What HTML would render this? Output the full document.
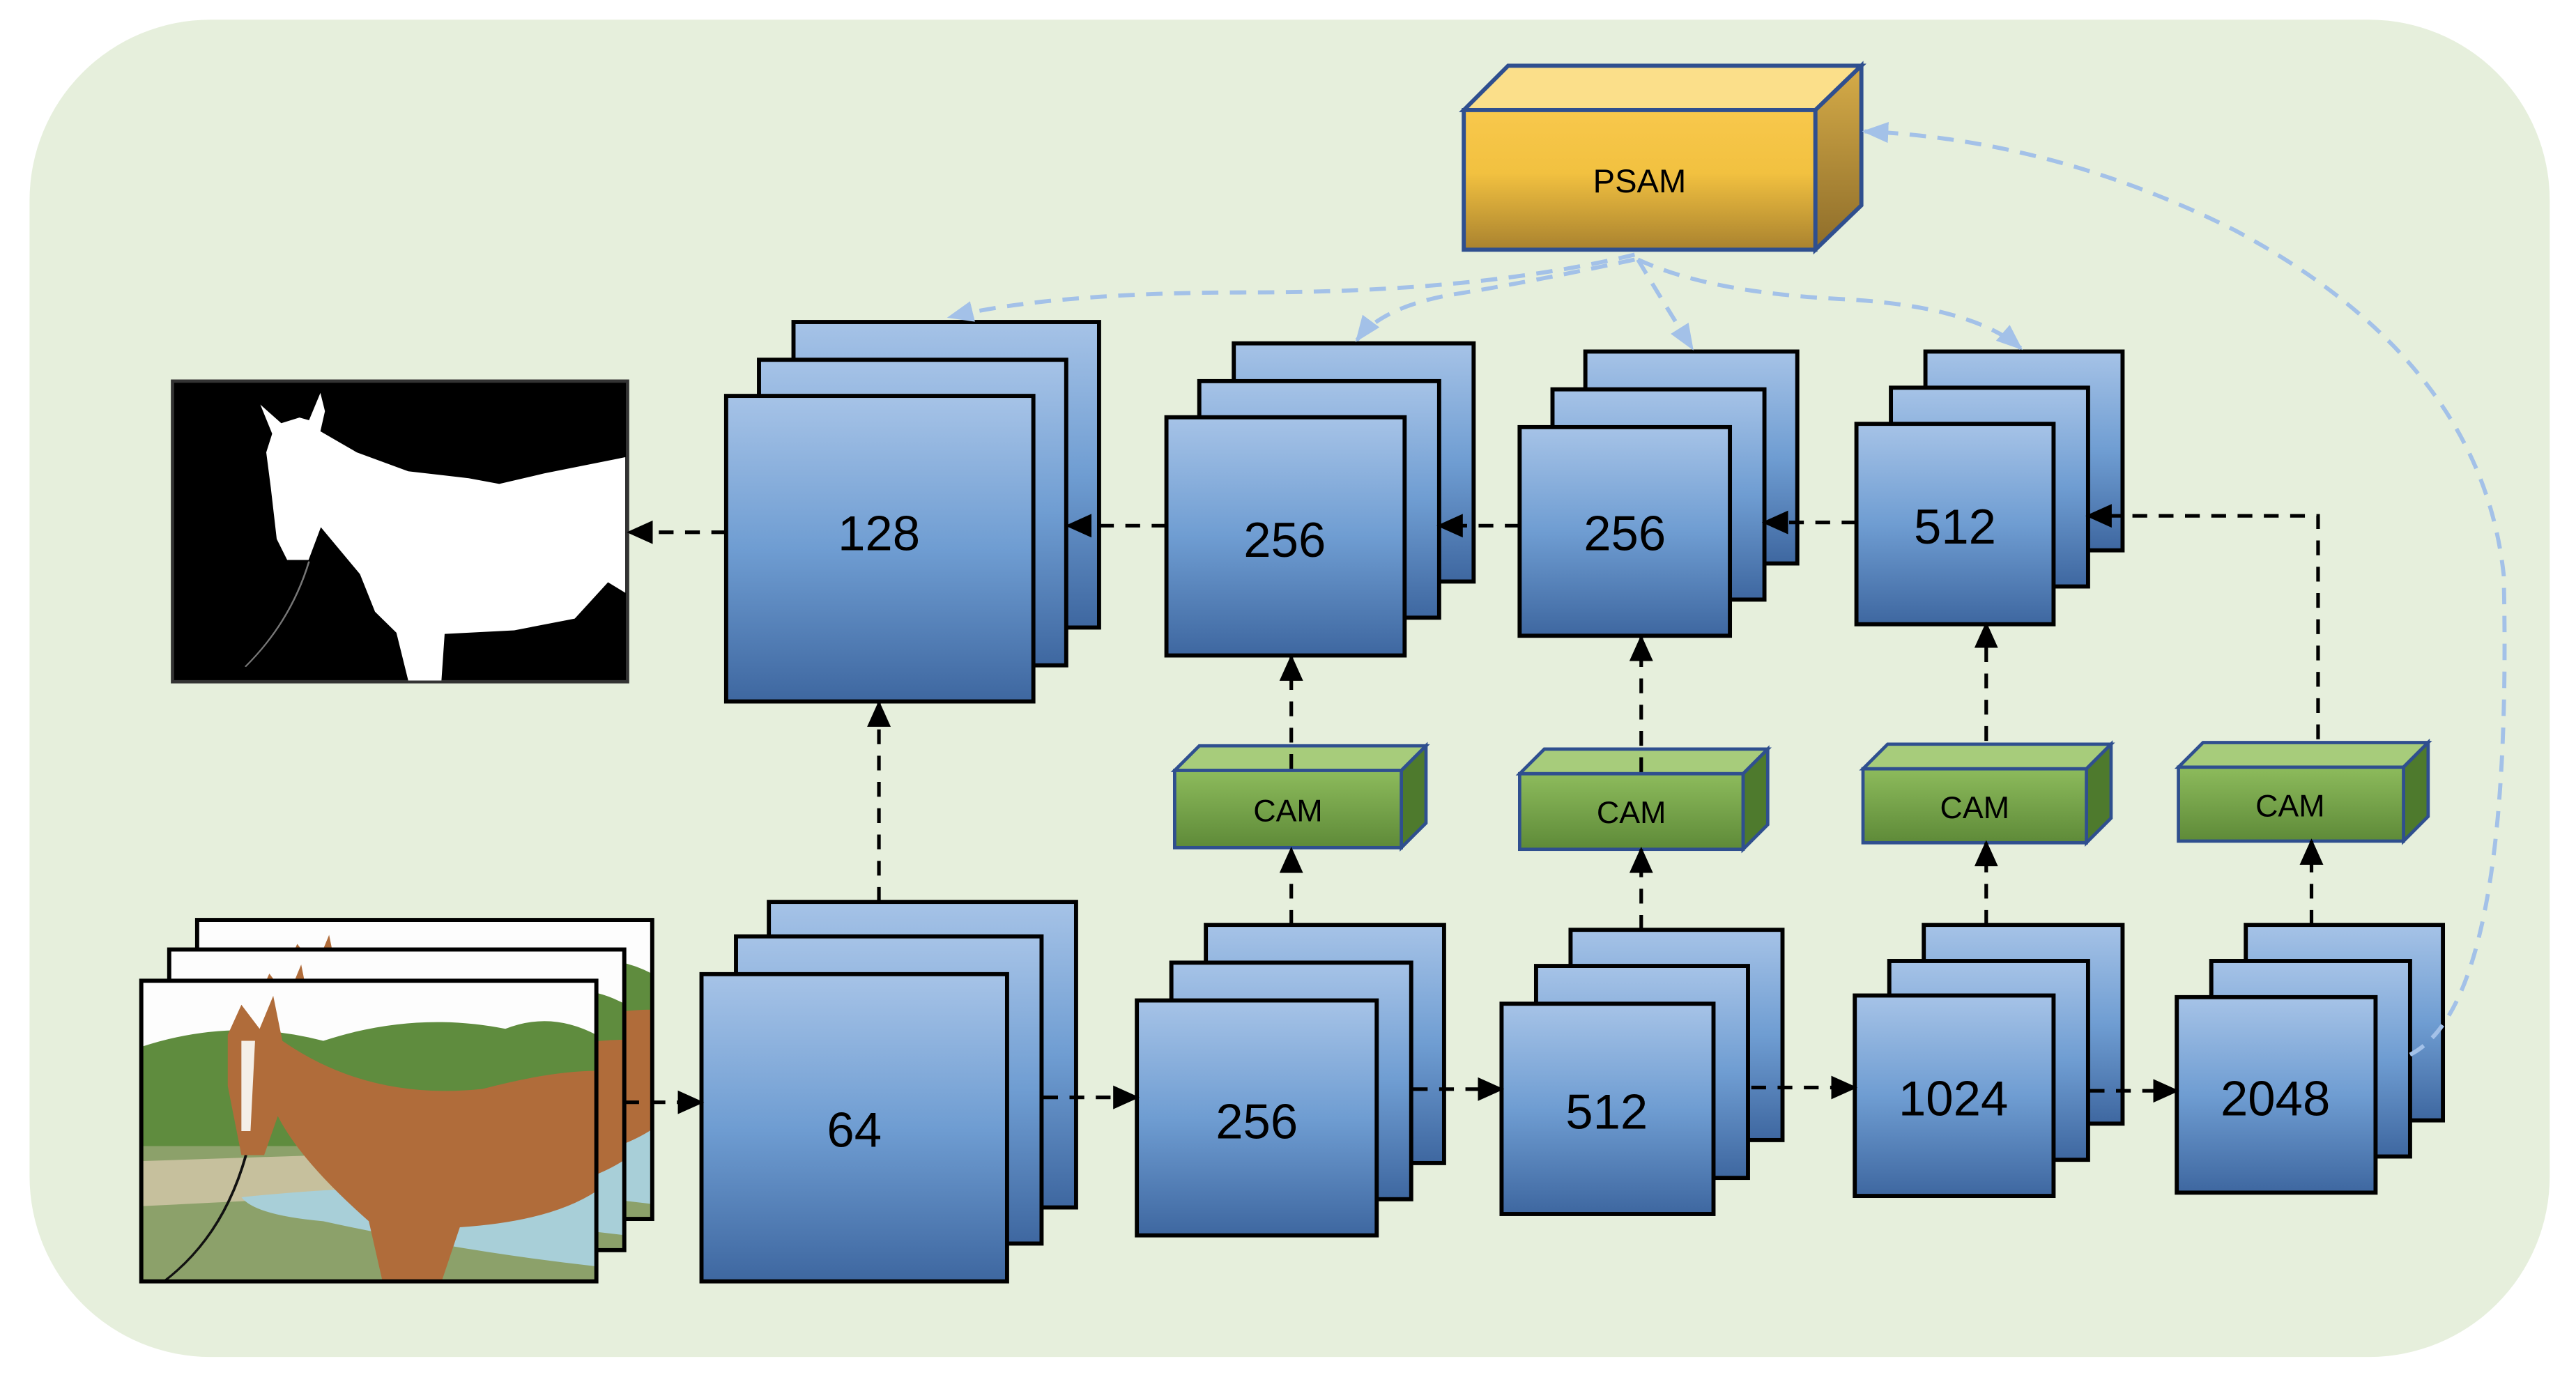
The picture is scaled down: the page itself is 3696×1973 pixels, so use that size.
<!DOCTYPE html>
<html><head><meta charset="utf-8"><style>html,body{margin:0;padding:0;background:#fff}svg{display:block}</style></head><body>
<svg width="3696" height="1973" viewBox="0 0 1568 837" preserveAspectRatio="none" xmlns="http://www.w3.org/2000/svg">
<defs>
<linearGradient id="bl" x1="0" y1="0" x2="0" y2="1"><stop offset="0" stop-color="#a6c3e7"/><stop offset="0.5" stop-color="#6f9dd2"/><stop offset="1" stop-color="#3e67a0"/></linearGradient>
<linearGradient id="gf" x1="0" y1="0" x2="0" y2="1"><stop offset="0" stop-color="#8dbb5c"/><stop offset="1" stop-color="#5e8a38"/></linearGradient>
<linearGradient id="yf" x1="0" y1="0" x2="0" y2="1"><stop offset="0" stop-color="#f8c84c"/><stop offset="0.45" stop-color="#f2c140"/><stop offset="1" stop-color="#a9822f"/></linearGradient>
<linearGradient id="ys" x1="0" y1="0" x2="0" y2="1"><stop offset="0" stop-color="#d6ac48"/><stop offset="1" stop-color="#8e6d2a"/></linearGradient>
<marker id="ab" viewBox="0 0 10 10" refX="9" refY="5" markerWidth="16" markerHeight="16" orient="auto" markerUnits="userSpaceOnUse"><path d="M0,1 L10,5 L0,9 z" fill="#a3c1e8"/></marker>
<marker id="bk" viewBox="0 0 10 10" refX="9" refY="5" markerWidth="16" markerHeight="16" orient="auto" markerUnits="userSpaceOnUse"><path d="M0,0.5 L10,5 L0,9.5 z" fill="#000"/></marker>
<g id="horse" stroke="none">
<rect x="0" y="0" width="1" height="1" fill="#fdfdfd"/>
<path d="M0,0.22 Q0.2,0.12 0.4,0.2 Q0.6,0.1 0.8,0.16 Q0.9,0.1 1,0.18 L1,0.55 L0,0.6 z" fill="#5f8c3e"/>
<rect x="0" y="0.55" width="1" height="0.45" fill="#8ca16a"/>
<path d="M0,0.6 L1,0.55 L1,0.7 L0.4,0.72 L0,0.75 z" fill="#c6c09d"/>
<path d="M0.22,0.72 Q0.6,0.66 1,0.7 L1,0.95 Q0.7,0.9 0.4,0.8 Q0.25,0.78 0.22,0.72 z" fill="#a8cfd8"/>
<path d="M0.19,0.18 L0.22,0.08 L0.26,0.16 L0.29,0.05 L0.31,0.2 Q0.5,0.4 0.75,0.36 Q0.9,0.3 1,0.3 L1,0.7 Q0.9,0.8 0.7,0.82 L0.66,1 L0.53,1 L0.5,0.8 Q0.35,0.6 0.3,0.45 L0.27,0.58 L0.22,0.58 L0.19,0.35 z" fill="#b06c3a"/>
<path d="M0.22,0.2 L0.25,0.2 L0.24,0.5 L0.22,0.5 z" fill="#f4efe8"/>
<path d="M0.23,0.58 Q0.18,0.85 0.05,1" fill="none" stroke="#111" stroke-width="0.006"/>
</g>
</defs>
<rect x="0" y="0" width="1568" height="837" fill="#ffffff"/>
<rect x="18" y="12" width="1534" height="814" rx="110" ry="110" fill="#e6efdc"/>

<!-- input images -->
<g transform="translate(120,560) scale(277,182)"><use href="#horse"/></g>
<rect x="120" y="560" width="277" height="182" fill="none" stroke="#000" stroke-width="2.5"/>
<g transform="translate(103,578) scale(277,183)"><use href="#horse"/></g>
<rect x="103" y="578" width="277" height="183" fill="none" stroke="#000" stroke-width="2.5"/>
<g transform="translate(86,597) scale(277,183)"><use href="#horse"/></g>
<rect x="86" y="597" width="277" height="183" fill="none" stroke="#000" stroke-width="2.5"/>

<!-- mask -->
<rect x="105" y="232" width="277" height="183" fill="#000" stroke="#333" stroke-width="2"/>
<g transform="translate(105,232) scale(277,183)">
<path d="M.193,.078 L.239,.140 L.279,.121 L.30,.13 L.325,.039 L.335,.10 L.325,.167 L.405,.237 L.518,.300 L.651,.323 L.718,.342 L.817,.307 L.995,.253 L.995,.704 L.957,.669 L.884,.790 L.751,.829 L.598,.841 L.591,.996 L.518,.996 L.492,.837 L.445,.767 L.412,.642 L.326,.486 L.299,.595 L.252,.595 L.229,.525 L.216,.354 L.206,.237 L.219,.175 z" fill="#fff"/>
<path d="M.30,.60 Q.26,.8 .16,.95" fill="none" stroke="#777" stroke-width="0.004"/>
</g>

<!-- stacks -->
<g fill="url(#bl)" stroke="#000" stroke-width="2.5">
<rect x="483" y="196" width="186" height="186"/><rect x="462" y="219" width="187" height="186"/><rect x="442" y="241" width="187" height="186"/>
<rect x="751" y="209" width="146" height="145"/><rect x="730" y="232" width="146" height="144"/><rect x="710" y="254" width="145" height="145"/>
<rect x="965" y="214" width="129" height="129"/><rect x="945" y="237" width="129" height="128"/><rect x="925" y="260" width="128" height="127"/>
<rect x="1172" y="214" width="120" height="121"/><rect x="1151" y="236" width="120" height="121"/><rect x="1130" y="258" width="120" height="122"/>
<rect x="468" y="549" width="187" height="186"/><rect x="448" y="570" width="186" height="187"/><rect x="427" y="593" width="186" height="187"/>
<rect x="734" y="563" width="145" height="145"/><rect x="713" y="586" width="146" height="144"/><rect x="692" y="609" width="146" height="143"/>
<rect x="956" y="566" width="129" height="128"/><rect x="935" y="588" width="129" height="129"/><rect x="914" y="611" width="129" height="128"/>
<rect x="1171" y="563" width="121" height="121"/><rect x="1150" y="585" width="121" height="121"/><rect x="1129" y="606" width="121" height="122"/>
<rect x="1367" y="563" width="120" height="119"/><rect x="1346" y="585" width="121" height="119"/><rect x="1325" y="607" width="121" height="119"/>
</g>
<g font-family="Liberation Sans, sans-serif" font-size="30" text-anchor="middle" fill="#000">
<text x="535" y="335">128</text><text x="782" y="339">256</text><text x="989" y="335">256</text><text x="1190" y="331">512</text>
<text x="520" y="698">64</text><text x="765" y="693">256</text><text x="978" y="687">512</text><text x="1189" y="679">1024</text><text x="1385" y="679">2048</text>
</g>

<!-- CAM boxes -->
<g stroke="#2f4f8f" stroke-width="2" font-family="Liberation Sans, sans-serif" font-size="19">
<g transform="translate(715,469)"><path d="M0,0 L15,-15 L153,-15 L138,0 z" fill="#a7cc7b"/><path d="M138,0 L153,-15 L153,32 L138,47 z" fill="#4e7a2d"/><rect x="0" y="0" width="138" height="47" fill="url(#gf)"/><text x="69" y="31" text-anchor="middle" stroke="none" fill="#000">CAM</text></g>
<g transform="translate(925,471)"><path d="M0,0 L15,-15 L151,-15 L136,0 z" fill="#a7cc7b"/><path d="M136,0 L151,-15 L151,31 L136,46 z" fill="#4e7a2d"/><rect x="0" y="0" width="136" height="46" fill="url(#gf)"/><text x="68" y="30" text-anchor="middle" stroke="none" fill="#000">CAM</text></g>
<g transform="translate(1134,468)"><path d="M0,0 L15,-15 L151,-15 L136,0 z" fill="#a7cc7b"/><path d="M136,0 L151,-15 L151,30 L136,45 z" fill="#4e7a2d"/><rect x="0" y="0" width="136" height="45" fill="url(#gf)"/><text x="68" y="30" text-anchor="middle" stroke="none" fill="#000">CAM</text></g>
<g transform="translate(1326,467)"><path d="M0,0 L15,-15 L152,-15 L137,0 z" fill="#a7cc7b"/><path d="M137,0 L152,-15 L152,30 L137,45 z" fill="#4e7a2d"/><rect x="0" y="0" width="137" height="45" fill="url(#gf)"/><text x="68" y="30" text-anchor="middle" stroke="none" fill="#000">CAM</text></g>
</g>

<!-- PSAM -->
<g stroke="#2f4f8f" stroke-width="2.5">
<path d="M891,67 L918,40 L1133,40 L1105,67 z" fill="#fbdf8a"/>
<path d="M1105,67 L1133,40 L1133,125 L1105,152 z" fill="url(#ys)"/>
<rect x="891" y="67" width="214" height="85" fill="url(#yf)"/>
<text x="998" y="117" text-anchor="middle" stroke="none" fill="#000" font-family="Liberation Sans, sans-serif" font-size="20">PSAM</text>
</g>

<!-- black dashed arrows -->
<g stroke="#000" stroke-width="2.2" stroke-dasharray="9 7" fill="none" marker-end="url(#bk)">
<path d="M380,671 L427,671"/><path d="M635,668 L692,668"/><path d="M860,663 L914,663"/><path d="M1066,662 L1129,662"/><path d="M1272,664 L1325,664"/>
<path d="M442,324 L383,324"/><path d="M710,320 L650,320"/><path d="M925,320 L876,320"/><path d="M1130,318 L1074,318"/>
<path d="M1411,450 L1411,314 L1271,314"/>
<path d="M535,549 L535,428"/>
<path d="M786,563 L786,517"/><path d="M786,468 L786,400"/>
<path d="M999,566 L999,517"/><path d="M999,470 L999,388"/>
<path d="M1209,563 L1209,513"/><path d="M1209,451 L1209,380"/>
<path d="M1407,563 L1407,512"/>
</g>

<!-- blue dashed curves -->
<g stroke="#a3c1e8" stroke-width="2.5" stroke-dasharray="10 7" fill="none" marker-end="url(#ab)">
<path d="M995,155 Q900,178 760,178 Q640,178 578,193"/>
<path d="M995,158 Q930,172 880,180 Q840,188 826,207"/>
<path d="M997,158 Q1010,180 1030,212"/>
<path d="M997,158 Q1040,178 1120,182 Q1200,186 1230,212"/>
<path d="M1467,642 Q1530,610 1524,350 Q1510,220 1360,140 Q1250,85 1135,80"/>
</g>
</svg>
</body></html>
